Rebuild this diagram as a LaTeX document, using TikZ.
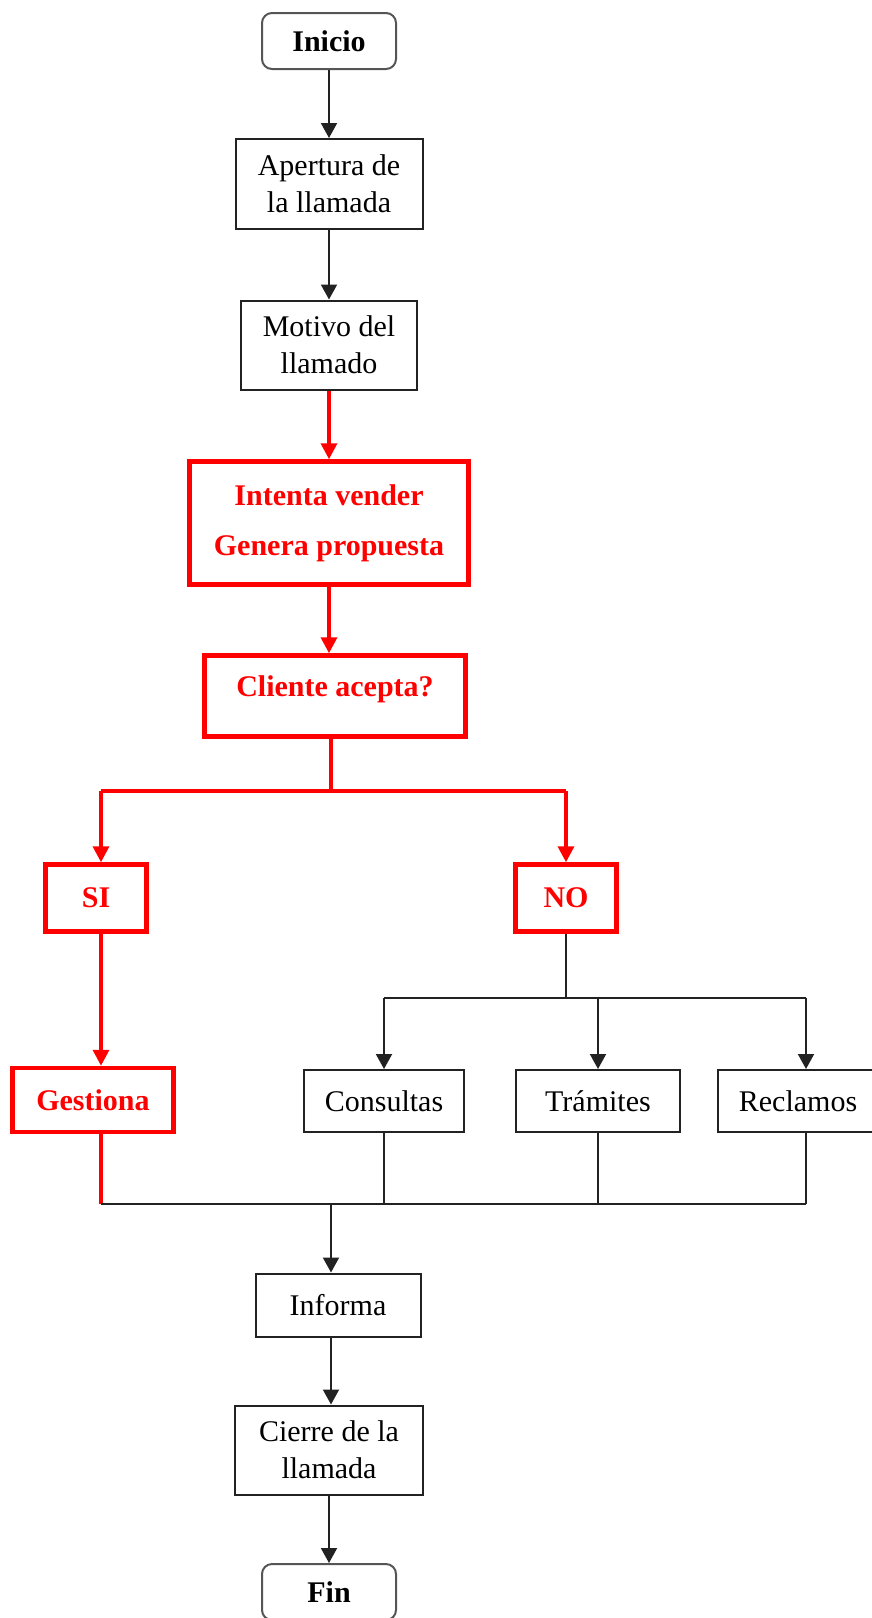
\documentclass[tikz,border=0pt]{standalone}
\usepackage{fontspec}
\setmainfont{Liberation Serif}
\usetikzlibrary{arrows.meta}

\definecolor{rojo}{RGB}{255,0,0}
\definecolor{borde}{RGB}{34,34,34}
\definecolor{gris}{RGB}{85,85,85}

\tikzset{
  caja/.style={draw=borde, line width=2pt, fill=white, align=center, inner sep=0pt,
    font=\fontsize{30}{37}\selectfont},
  cajaroja/.style={caja, draw=rojo, line width=4.5pt, text=rojo,
    font=\fontsize{30}{50}\selectfont\bfseries},
  extremo/.style={caja, draw=gris, rounded corners=10pt,
    font=\fontsize{30}{37}\selectfont\bfseries},
  linea/.style={draw=borde, line width=2pt},
  linearoja/.style={draw=rojo, line width=3.5pt},
  flecha/.style={linea, -{Triangle[length=15pt,width=16pt]}},
  flecharoja/.style={linearoja, -{Triangle[length=16pt,width=16pt]}},
}

\begin{document}
\begin{tikzpicture}[x=1pt, y=-1pt]
    \useasboundingbox (0,0) rectangle (872,1618);

    % Columna principal
    \node[extremo, minimum width=134pt, minimum height=56pt] (inicio) at (329,41) {Inicio};
    \node[caja, minimum width=187pt, minimum height=90pt] (apertura) at (329,184) {Apertura de\\la llamada};
    \node[caja, minimum width=176pt, minimum height=89pt] (motivo) at (329,345) {Motivo del\\llamado};
    \node[cajaroja, minimum width=279pt, minimum height=123pt] (intenta) at (329,523) {Intenta vender\\Genera propuesta};
    \node[cajaroja, minimum width=261pt, minimum height=81pt, text depth=20pt] (cliente) at (335,696) {Cliente acepta?};

    % Respuestas
    \node[cajaroja, minimum width=101pt, minimum height=67pt] (si) at (96,898) {SI};
    \node[cajaroja, minimum width=101pt, minimum height=67pt] (no) at (566,898) {NO};
    \node[cajaroja, minimum width=161pt, minimum height=64pt] (gestiona) at (93,1100) {Gestiona};
    \node[caja, minimum width=160pt, minimum height=62pt] (consultas) at (384,1101) {Consultas};
    \node[caja, minimum width=164pt, minimum height=62pt] (tramites) at (598,1101) {Trámites};
    \node[caja, minimum width=160pt, minimum height=62pt] (reclamos) at (798,1101) {Reclamos};

    % Cierre
    \node[caja, minimum width=165pt, minimum height=63pt] (informa) at (338,1305) {Informa};
    \node[caja, minimum width=188pt, minimum height=89pt] (cierre) at (329,1450) {Cierre de la\\llamada};
    \node[extremo, minimum width=134pt, minimum height=56pt] (fin) at (329,1592) {Fin};

    % Puntos de union
    \coordinate (rama) at (331,791);
    \coordinate (ramasi) at (101,791);
    \coordinate (ramano) at (566,998);
    \coordinate (recl) at (806,998);
    \coordinate (union) at (331,1204);

    % Flechas
    \draw[flecha] (inicio) -- (apertura);
    \draw[flecha] (apertura) -- (motivo);
    \draw[flecharoja] (motivo) -- (intenta);
    \draw[flecharoja] (intenta) -- (intenta |- cliente.north);
    \draw[linearoja] (rama |- cliente.south) -- (rama);
    \draw[linearoja] (ramasi) -- (rama -| no);
    \draw[flecharoja] (ramasi) -- (ramasi |- si.north);
    \draw[flecharoja] (rama -| no) -- (no);
    \draw[flecharoja] (ramasi |- si.south) -- (ramasi |- gestiona.north);

    \draw[linea] (no) -- (ramano);
    \draw[linea] (ramano -| consultas) -- (recl);
    \draw[flecha] (ramano -| consultas) -- (consultas);
    \draw[flecha] (ramano -| tramites) -- (tramites);
    \draw[flecha] (recl) -- (recl |- reclamos.north);

    \draw[linearoja] (ramasi |- gestiona.south) -- (ramasi |- union);
    \draw[linea] (ramasi |- union) -- (recl |- union);
    \draw[linea] (consultas) -- (consultas |- union);
    \draw[linea] (tramites) -- (tramites |- union);
    \draw[linea] (recl |- reclamos.south) -- (recl |- union);
    \draw[flecha] (union) -- (union |- informa.north);
    \draw[flecha] (union |- informa.south) -- (union |- cierre.north);
    \draw[flecha] (cierre) -- (fin);
\end{tikzpicture}
\end{document}
